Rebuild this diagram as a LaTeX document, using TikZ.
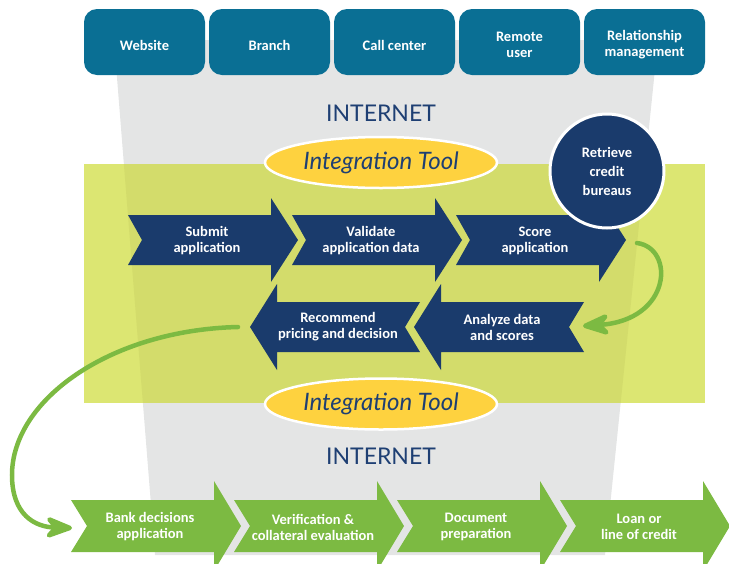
\documentclass[tikz,border=0pt]{standalone}
\usepackage{fontspec}
\setmainfont{Carlito}
\newfontfamily\geo{Lato}
\usetikzlibrary{arrows.meta,shapes.geometric}
\definecolor{boxteal}{HTML}{0A6F94}
\definecolor{dblue}{HTML}{1A3B6C}
\definecolor{agreen}{HTML}{7CBA42}
\definecolor{ityellow}{HTML}{FED23F}
\definecolor{bandlight}{HTML}{DCE672}
\definecolor{banddark}{HTML}{D3DC6B}
\definecolor{funnelgrey}{HTML}{E4E5E5}
\definecolor{nettext}{HTML}{1E3F73}
\tikzset{
  lbl/.style={text=white, font=\fontsize{14.5}{16}\selectfont\bfseries, align=center, inner sep=0pt},
  topbox/.style={fill=boxteal, rounded corners=13pt, minimum width=121pt, minimum height=66pt, inner sep=0pt},
  nettxt/.style={text=nettext, font=\geo\fontsize{23}{26}\selectfont, inner sep=0pt},
  itool/.style={ellipse, fill=ityellow, draw=white, line width=2.5pt, minimum width=232pt, minimum height=51pt,
    inner sep=0pt, text=nettext, font=\geo\itshape\fontsize{24}{26}\selectfont},
  conn/.style={draw=agreen, line width=4.5pt, line cap=round,
    -{Stealth[length=34pt,width=26pt,inset=11pt,round=false]}}
}
% right-pointing chevron arrow: name, x0, yc, colour, shaft half, head half, notch, text
\newcommand\ArrR[8]{%
  \fill[#4] (#2,#3-#5) -- (#2+143,#3-#5) -- (#2+143,#3-#6) -- (#2+170,#3) -- (#2+143,#3+#6)
    -- (#2+143,#3+#5) -- (#2,#3+#5) -- (#2+#7,#3) -- cycle;
  \node[lbl] (#1) at (#2+79,#3+1) {#8};}
% left-pointing chevron arrow: name, xr, yc, text
\newcommand\ArrL[4]{%
  \fill[dblue] (#2,#3-25) -- (#2-143,#3-25) -- (#2-143,#3-43) -- (#2-170,#3) -- (#2-143,#3+43)
    -- (#2-143,#3+25) -- (#2,#3+25) -- (#2-15,#3) -- cycle;
  \node[lbl] (#1) at (#2-82,#3) {#4};}
% top box: name, centre x, text
\newcommand\TopBox[3]{%
  \node[topbox] (#1) at (#2,42) {};
  \node[lbl] (#1-t) at (#2,45) {#3};}
\begin{document}
\begin{tikzpicture}[x=1pt,y=-1pt]
\useasboundingbox (0,0) rectangle (729,563);
% funnel
\fill[funnelgrey] (114,40) -- (658,40) -- (605,555) -- (155,555) -- cycle;
% band
\fill[bandlight] (84,164) rectangle (705,403);
\begin{scope}
  \clip (114,40) -- (658,40) -- (605,555) -- (155,555) -- cycle;
  \fill[banddark] (84,164) rectangle (705,403);
\end{scope}
% top boxes
\TopBox{web}{144.5}{Website}
\TopBox{branch}{269.5}{Branch}
\TopBox{call}{394.5}{Call center}
\TopBox{remote}{519.5}{Remote\\user}
\TopBox{rel}{644.5}{Relationship\\management}
% internet labels
\node[nettxt] (net1) at (381,113.5) {INTERNET};
\node[nettxt] (net2) at (381,456) {INTERNET};
% process arrows
\ArrR{submit}{128}{240}{dblue}{25}{42}{14}{Submit\\application}
\ArrR{validate}{292}{240}{dblue}{25}{42}{14}{Validate\\application data}
\ArrR{score}{456}{240}{dblue}{25}{42}{14}{Score\\application}
\ArrL{analyze}{584}{327}{Analyze data\\and scores}
\ArrL{recommend}{420}{327}{Recommend\\pricing and decision}
% bottom green arrows
\ArrR{bank}{71}{526}{agreen}{26}{45}{16}{Bank decisions\\application}
\ArrR{verif}{234}{526}{agreen}{26}{45}{16}{Verification \&\\collateral evaluation}
\ArrR{docprep}{397}{526}{agreen}{26}{45}{16}{Document\\preparation}
\ArrR{loan}{560}{526}{agreen}{26}{45}{16}{Loan or\\line of credit}
% integration tool ellipses
\node[itool] (it1) at (381,162.5) {Integration Tool};
\node[itool] (it2) at (381,404) {Integration Tool};
% credit bureaus
\node[circle, fill=dblue, draw=white, line width=3pt, minimum size=114pt, inner sep=0pt,
  text=white, font=\fontsize{14.5}{19}\selectfont\bfseries, align=center] (bureau) at (607,171) {Retrieve\\credit\\bureaus};
% connectors
\coordinate (scoreout) at (637,243);
\coordinate (analyzein) at (583,326);
\coordinate (recout) at (238,327);
\coordinate (bankin) at (72,528);
\draw[conn] (scoreout) .. controls (675,248) and (672,320) .. (analyzein);
\draw[conn] (recout) .. controls (110,330) and (12,400) .. (12,475) .. controls (12,515) and (35,527) .. (bankin);
\end{tikzpicture}
\end{document}
